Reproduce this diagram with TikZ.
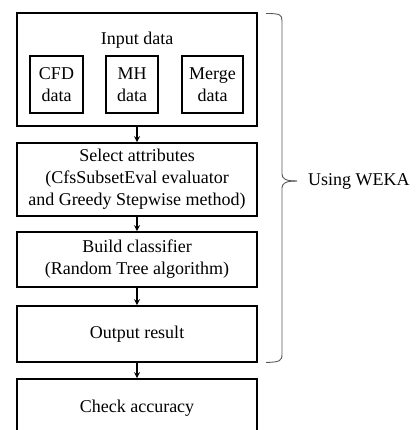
\documentclass[tikz,border=0pt]{standalone}
\usepackage{fontspec}
\setmainfont{Liberation Serif}
\usetikzlibrary{arrows.meta}
\begin{document}
\begin{tikzpicture}[x=1pt,y=-1pt,
  box/.style={draw, line width=1.6pt, inner sep=0pt, align=center,
    minimum width=240pt, font=\fontsize{18}{22}\selectfont},
  subbox/.style={draw, line width=1.6pt, inner sep=0pt, align=center,
    minimum height=57pt, font=\fontsize{18}{22}\selectfont},
  flow/.style={line width=1.2pt, -{Stealth[length=6pt,width=6pt]}},
  brace/.style={draw=black!65, line width=0.9pt}]
\useasboundingbox (0,0) rectangle (418,430);
\begin{scope}
\clip (0,0) rectangle (418,430);
% input stage with its three data sets
\node[box, minimum height=113pt] (inputbox) at (137,69.5) {};
\node[font=\fontsize{18}{22}\selectfont, inner sep=0pt] (inputtitle) at (137,40) {Input data};
\node[subbox, minimum width=53pt] (cfd) at (56.5,84.5) {CFD\\data};
\node[subbox, minimum width=52pt] (mh) at (132,84.5) {MH\\data};
\node[subbox, minimum width=61pt] (merge) at (212.5,84.5) {Merge\\data};
% processing steps
\node[box, minimum height=73pt] (select) at (137,179.5)
  {Select attributes\\(CfsSubsetEval evaluator\\and Greedy Stepwise method)};
\node[box, minimum height=55pt] (build) at (137,259.5)
  {Build classifier\\(Random Tree algorithm)};
\node[box, minimum height=56pt] (output) at (137,334) {Output result};
\node[box, minimum height=58pt] (check) at (137,408) {Check accuracy};
% connectors
\draw[flow] (inputbox.south) -- (select.north);
\draw[flow] (select.south) -- (build.north);
\draw[flow] (build.south) -- (output.north);
\draw[flow] (output.south) -- (check.north);
\end{scope}
% brace grouping the WEKA steps
\coordinate (btip) at (297,181);
\draw[brace] (266,13.5) .. controls (280,13.5) and (282,14.5) .. (282,21)
  -- (282,174) .. controls (282,179) and (286,181) .. (btip);
\draw[brace] (btip) .. controls (286,181) and (282,183) .. (282,188)
  -- (282,354) .. controls (282,361) and (280,362) .. (266,362.5);
\node[font=\fontsize{18}{22}\selectfont, anchor=west, inner sep=0pt] (weka) at (308,181) {Using WEKA};
\end{tikzpicture}
\end{document}
